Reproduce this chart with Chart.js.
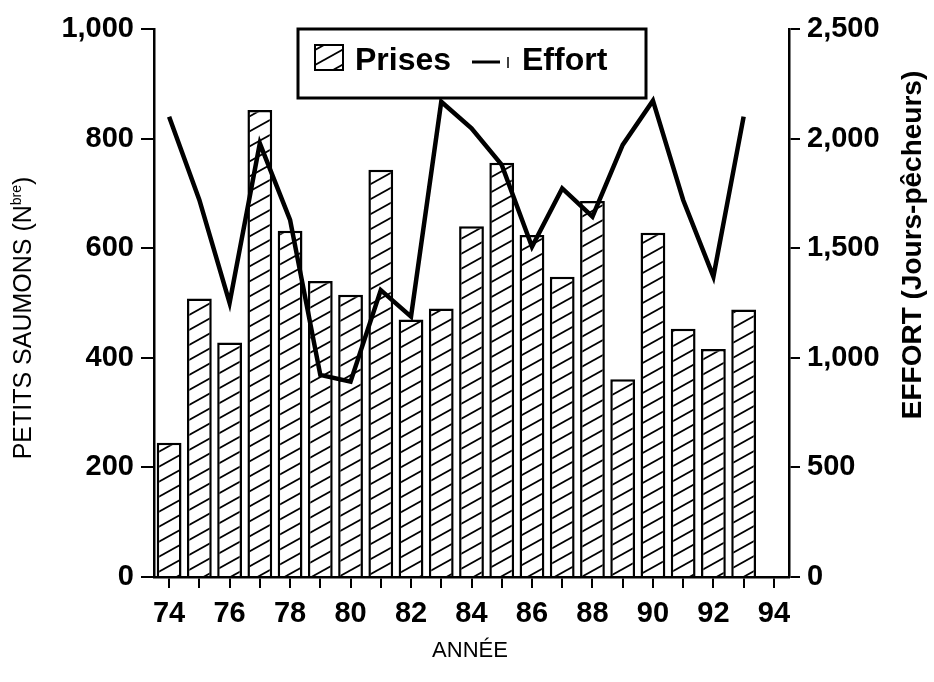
<!DOCTYPE html>
<html>
<head>
<meta charset="utf-8">
<script src="https://cdn.jsdelivr.net/npm/chart.js@4"></script>
<style>
  html, body { margin: 0; padding: 0; background: #fff; }
  #wrap { width: 934px; height: 682px; }
</style>
</head>
<body>
<div id="wrap"><canvas id="saumons" width="934" height="682"></canvas></div>
<script>
// années 74 à 94 (94 sans données)
const annees = ['74','75','76','77','78','79','80','81','82','83','84','85','86','87','88','89','90','91','92','93','94'];

// petits saumons capturés (N bre)
const prises = [245, 508, 428, 852, 632, 540, 515, 743, 470, 490, 640, 756, 624, 548, 686, 361, 628, 453, 416, 488, null];

// effort de pêche (jours-pêcheurs)
const effort = [2100, 1720, 1250, 1978, 1629, 922, 891, 1309, 1188, 2168, 2047, 1880, 1507, 1773, 1644, 1971, 2173, 1720, 1370, 2100, null];

const ticksGauche = [0, 200, 400, 600, 800, 1000];
const ticksDroite = [0, 500, 1000, 1500, 2000, 2500];

const FONT = '"Liberation Sans", Arial, Helvetica, sans-serif';

const canvas = document.getElementById('saumons');
const ctx = canvas.getContext('2d');

// motif hachuré "/" pour les barres
function makeHatch() {
    const tile = document.createElement('canvas');
    tile.width = 27;
    tile.height = 15;
    const g = tile.getContext('2d');
    g.fillStyle = '#ffffff';
    g.fillRect(0, 0, 27, 15);
    g.strokeStyle = '#000000';
    g.lineWidth = 1.8;
    for (const dy of [-15, 0, 15]) {
        g.beginPath();
        g.moveTo(-27, 30 + dy);
        g.lineTo(54, -15 + dy);
        g.stroke();
    }
    return ctx.createPattern(tile, 'repeat');
}
const hatch = makeHatch();

const fmt = (v) => new Intl.NumberFormat('en-US').format(v);

// titres des axes et légende encadrée
const decor = {
    id: 'decor',
    afterDraw(chart) {
        const c = chart.ctx;
        c.save();
        c.fillStyle = '#000';
        c.textBaseline = 'middle';

        // titre gauche avec exposant
        c.save();
        c.translate(24, 318);
        c.rotate(-Math.PI / 2);
        const parts = [
            { t: 'PETITS SAUMONS (N', f: '25px ' + FONT, dy: 0 },
            { t: 'bre', f: '14px ' + FONT, dy: -7 },
            { t: ')', f: '25px ' + FONT, dy: 0 }
        ];
        let total = 0;
        parts.forEach(p => { c.font = p.f; p.w = c.measureText(p.t).width; total += p.w; });
        let x = -total / 2;
        c.textAlign = 'left';
        parts.forEach(p => { c.font = p.f; c.fillText(p.t, x, p.dy); x += p.w; });
        c.restore();

        // titre droit
        c.save();
        c.translate(913, 245);
        c.rotate(-Math.PI / 2);
        c.font = 'bold 28px ' + FONT;
        c.textAlign = 'center';
        c.fillText('EFFORT (Jours-pêcheurs)', 0, 0);
        c.restore();

        // titre bas
        c.font = '22px ' + FONT;
        c.textAlign = 'center';
        c.fillText('ANNÉE', 470, 651);

        // légende
        const barDs = chart.data.datasets.find(d => d.type === 'bar');
        const lineDs = chart.data.datasets.find(d => d.type === 'line');
        c.fillStyle = '#fff';
        c.fillRect(298, 29, 348, 69);
        c.strokeStyle = '#000';
        c.lineWidth = 3;
        c.strokeRect(298, 29, 348, 69);

        c.fillStyle = hatch;
        c.fillRect(315, 45, 28, 25);
        c.lineWidth = 2;
        c.strokeRect(315, 45, 28, 25);

        c.fillStyle = '#000';
        c.font = 'bold 32px ' + FONT;
        c.textAlign = 'left';
        c.textBaseline = 'alphabetic';
        c.fillText(barDs.label, 355, 70);

        c.lineWidth = 3;
        c.beginPath();
        c.moveTo(472, 62);
        c.lineTo(500, 62);
        c.stroke();
        c.lineWidth = 1.5;
        c.beginPath();
        c.moveTo(508, 57);
        c.lineTo(508, 68);
        c.stroke();

        c.fillText(lineDs.label, 522, 70);
        c.restore();
    }
};

new Chart(canvas, {
    data: {
        labels: annees,
        datasets: [
            {
                type: 'line',
                label: 'Effort',
                data: effort,
                yAxisID: 'yEffort',
                borderColor: '#000',
                borderWidth: 4.5,
                borderJoinStyle: 'miter',
                pointRadius: 0,
                tension: 0,
                fill: false,
                order: 0
            },
            {
                type: 'bar',
                label: 'Prises',
                data: prises,
                yAxisID: 'yPrises',
                backgroundColor: hatch,
                borderColor: '#000',
                borderWidth: 2.5,
                borderSkipped: 'bottom',
                categoryPercentage: 1,
                barPercentage: 0.82,
                order: 1
            }
        ]
    },
    options: {
        responsive: false,
        animation: false,
        devicePixelRatio: 1,
        layout: { padding: { top: 29, left: 0, right: 0, bottom: 0 } },
        plugins: {
            legend: { display: false },
            tooltip: { enabled: false }
        },
        scales: {
            x: {
                type: 'category',
                offset: true,
                afterFit: (s) => { s.height = 105; },
                grid: {
                    offset: false,
                    drawOnChartArea: false,
                    drawTicks: true,
                    tickLength: 11,
                    color: '#000',
                    lineWidth: 2
                },
                border: { display: true, color: '#000', width: 2.5 },
                ticks: {
                    autoSkip: false,
                    maxRotation: 0,
                    padding: 9,
                    color: '#000',
                    font: { family: FONT, size: 29, weight: 'bold' },
                    callback: function (value, index) {
                        const lab = annees[index];
                        return Number(lab) % 2 === 0 ? lab : '';
                    }
                }
            },
            yPrises: {
                type: 'linear',
                position: 'left',
                min: 0,
                max: 1000,
                afterFit: (s) => { s.width = 154; },
                afterBuildTicks: (s) => { s.ticks = ticksGauche.map(v => ({ value: v })); },
                grid: {
                    drawOnChartArea: false,
                    tickLength: 13,
                    color: '#000',
                    lineWidth: 2
                },
                border: { display: true, color: '#000', width: 2.5 },
                ticks: {
                    padding: 7,
                    color: '#000',
                    font: { family: FONT, size: 29, weight: 'bold' },
                    callback: (v) => fmt(v)
                }
            },
            yEffort: {
                type: 'linear',
                position: 'right',
                min: 0,
                max: 2500,
                afterFit: (s) => { s.width = 145; },
                afterBuildTicks: (s) => { s.ticks = ticksDroite.map(v => ({ value: v })); },
                grid: {
                    drawOnChartArea: false,
                    tickLength: 11,
                    color: '#000',
                    lineWidth: 2
                },
                border: { display: true, color: '#000', width: 2.5 },
                ticks: {
                    padding: 7,
                    color: '#000',
                    font: { family: FONT, size: 29, weight: 'bold' },
                    callback: (v) => fmt(v)
                }
            }
        }
    },
    plugins: [decor]
});
</script>
</body>
</html>
